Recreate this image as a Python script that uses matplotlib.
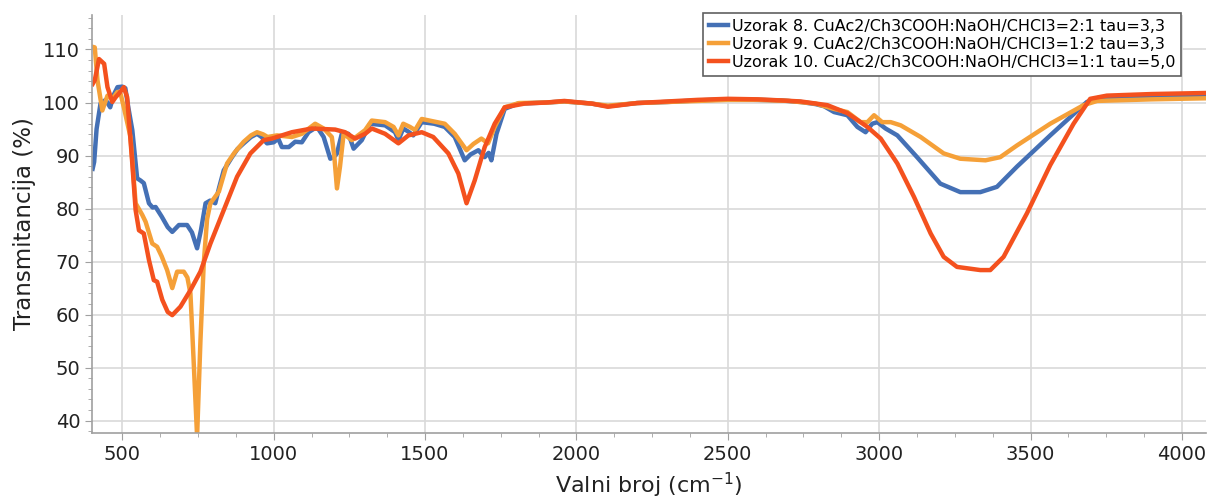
import numpy as np
import matplotlib.pyplot as plt
from matplotlib.ticker import MultipleLocator

# Uzorak 8 (plava)
x8 = [402, 407, 415, 428, 445, 460, 472, 484, 500, 510, 520, 533, 549, 560, 571, 588, 600, 610,
      630, 650, 665, 687, 714, 730, 747, 760, 775, 790, 807, 820, 835, 860, 880, 901, 925, 945,
      960, 978, 1000, 1015, 1027, 1050, 1071, 1093, 1115, 1143, 1165, 1187, 1200, 1209, 1225,
      1247, 1264, 1291, 1318, 1368, 1401, 1412, 1428, 1445, 1461, 1489, 1530, 1565, 1598, 1631,
      1650, 1676, 1697, 1710, 1719, 1736, 1763, 1807, 1900, 1960, 2050, 2104, 2200, 2300, 2400,
      2500, 2600, 2675, 2741, 2790, 2818, 2851, 2895, 2928, 2955, 2977, 2994, 3021, 3060, 3125,
      3202, 3268, 3334, 3389, 3455, 3565, 3686, 3730, 3850, 4080]
y8 = [87.5, 88.8, 95, 99.8, 100.5, 99.1, 101.5, 102.9, 103, 102.7, 99, 94.8, 85.7, 85.3, 84.8,
      81, 80.2, 80.3, 78.5, 76.5, 75.6, 76.9, 76.9, 75.5, 72.5, 76, 81, 81.5, 81, 84, 87.2, 89.5,
      91.2, 92.3, 93.5, 94.1, 93.5, 92.3, 92.5, 93.2, 91.6, 91.6, 92.6, 92.5, 94.4, 95.4, 93.5,
      89.4, 89.8, 90.4, 94.1, 94.1, 91.3, 92.9, 96, 95.7, 94.4, 92.9, 95.1, 94.5, 93.8, 96.3, 96,
      95.4, 93.5, 89.1, 90.2, 91, 89.7, 90.5, 89.1, 94.1, 98.8, 99.8, 100, 100.2, 99.8, 99.3,
      99.9, 100.1, 100.4, 100.6, 100.5, 100.4, 100.1, 99.7, 99.3, 98.2, 97.6, 95.4, 94.4, 96,
      96.3, 95.1, 93.8, 89.7, 84.7, 83.1, 83.1, 84.1, 87.9, 93.8, 100.1, 101, 101.1, 101.2]

# Uzorak 9 (narancasta)
x9 = [402, 409, 418, 434, 451, 467, 484, 495, 505, 527, 544, 566, 577, 599, 615, 630, 648, 665,
      681, 703, 715, 725, 735, 747, 758, 769, 780, 791, 819, 846, 870, 901, 925, 945, 965, 980,
      1011, 1060, 1093, 1137, 1165, 1192, 1200, 1209, 1219, 1231, 1258, 1302, 1324, 1368, 1396,
      1412, 1428, 1450, 1467, 1489, 1565, 1598, 1637, 1660, 1686, 1708, 1730, 1763, 1810, 1900,
      1960, 2050, 2104, 2200, 2300, 2400, 2500, 2600, 2700, 2790, 2850, 2895, 2939, 2961, 2983,
      3010, 3038, 3071, 3137, 3213, 3268, 3351, 3400, 3455, 3565, 3675, 3720, 3900, 4080]
y9 = [110.5, 110.4, 104.2, 98.5, 101.3, 100.7, 102, 101.5, 99.1, 93.5, 81, 78.8, 77.5, 73.4,
      72.8, 71, 68.4, 65, 68.1, 68.1, 67, 64, 52, 37, 55, 69.7, 78, 81, 83.2, 88.5, 90.5, 92.6,
      93.8, 94.4, 94, 93.5, 93.8, 93.5, 94.1, 96, 95.1, 93.5, 90, 83.8, 87.9, 94.1, 92.9, 94.8,
      96.6, 96.3, 95.4, 93.8, 96, 95.4, 94.8, 96.9, 96, 94.1, 91, 92.2, 93.2, 92.3, 95.4, 99.1,
      99.9, 100, 100.2, 99.8, 99.4, 99.9, 100.1, 100.3, 100.5, 100.5, 100.3, 99.8, 98.8, 98.2,
      96.3, 96.3, 97.6, 96.3, 96.3, 95.7, 93.5, 90.4, 89.4, 89.1, 89.7, 91.9, 96, 99.5, 100.3,
      100.6, 100.8]

# Uzorak 10 (crvena)
x10 = [402, 409, 423, 440, 451, 467, 478, 489, 505, 516, 533, 544, 555, 571, 588, 604, 615, 632,
       650, 665, 692, 725, 758, 791, 835, 879, 923, 967, 994, 1060, 1126, 1203, 1236, 1269, 1302,
       1324, 1368, 1412, 1445, 1489, 1527, 1577, 1610, 1637, 1664, 1697, 1730, 1763, 1829, 1900,
       1960, 2050, 2104, 2200, 2300, 2400, 2500, 2600, 2675, 2741, 2829, 2895, 2961, 3005, 3060,
       3115, 3170, 3213, 3257, 3334, 3367, 3411, 3488, 3565, 3642, 3697, 3752, 3900, 4080]
y10 = [103.5, 104.2, 108.2, 107.3, 102.9, 100.1, 101, 101.7, 102.9, 101, 88.5, 79.7, 75.9, 75.3,
       70.3, 66.5, 66.2, 62.8, 60.5, 59.9, 61.5, 64.6, 68.1, 73.4, 79.7, 86, 90.4, 92.9, 93.2,
       94.4, 95.1, 94.9, 94.4, 93.2, 94.1, 95.1, 94.1, 92.3, 93.8, 94.4, 93.5, 90.4, 86.6, 81,
       85.3, 91.6, 96, 99.1, 99.8, 100, 100.3, 99.8, 99.2, 99.9, 100.2, 100.5, 100.7, 100.6,
       100.4, 100.2, 99.5, 98, 95.4, 93.2, 88.5, 82.2, 75.3, 70.9, 69, 68.4, 68.4, 70.9, 79.1,
       88.2, 96, 100.7, 101.3, 101.6, 101.8]

labels = ['Uzorak 8. CuAc2/Ch3COOH:NaOH/CHCl3=2:1 tau=3,3',
          'Uzorak 9. CuAc2/Ch3COOH:NaOH/CHCl3=1:2 tau=3,3',
          'Uzorak 10. CuAc2/Ch3COOH:NaOH/CHCl3=1:1 tau=5,0']
colors = ['#4470B5', '#F5A038', '#F4511E']

fig = plt.figure(figsize=(12.11, 5.01), dpi=100)
ax = fig.add_axes([0.076, 0.136, 0.92, 0.834])

for xs, ys, lab, c in zip([x8, x9, x10], [y8, y9, y10], labels, colors):
    ax.plot(xs, ys, color=c, lw=3.2, label=lab, solid_joinstyle='round')

ax.set_xlim(400, 4080)
ax.set_ylim(37.7, 116.5)
ax.xaxis.set_major_locator(MultipleLocator(500))
ax.xaxis.set_minor_locator(MultipleLocator(125))
ax.yaxis.set_major_locator(MultipleLocator(10))
ax.yaxis.set_minor_locator(MultipleLocator(2))
ax.grid(True, which='major', color='#d9d9d9', lw=1.2)
ax.set_axisbelow(True)

for s in ['top', 'right']:
    ax.spines[s].set_visible(False)
for s in ['left', 'bottom']:
    ax.spines[s].set_color('#a0a0a0')
    ax.spines[s].set_linewidth(1.2)
ax.tick_params(which='major', length=5, color='#a0a0a0', labelsize=14, labelcolor='#222222')
ax.tick_params(which='minor', length=3, color='#a0a0a0')

ax.set_xlabel('Valni broj (cm$^{-1}$)', fontsize=16, color='#222222', labelpad=5)
ax.set_ylabel('Transmitancija (%)', fontsize=16.5, color='#222222', labelpad=5)

leg = ax.legend(loc='upper right', bbox_to_anchor=(1181/1211, 1 - 13/501),
                bbox_transform=fig.transFigure, borderaxespad=0, fontsize=11.5,
                handlelength=1.2, handletextpad=0.25, labelspacing=0.2,
                fancybox=False, framealpha=1, edgecolor='#606060', borderpad=0.35)
leg.get_frame().set_linewidth(1.2)

plt.savefig('out.png', dpi=100)
plt.close()
